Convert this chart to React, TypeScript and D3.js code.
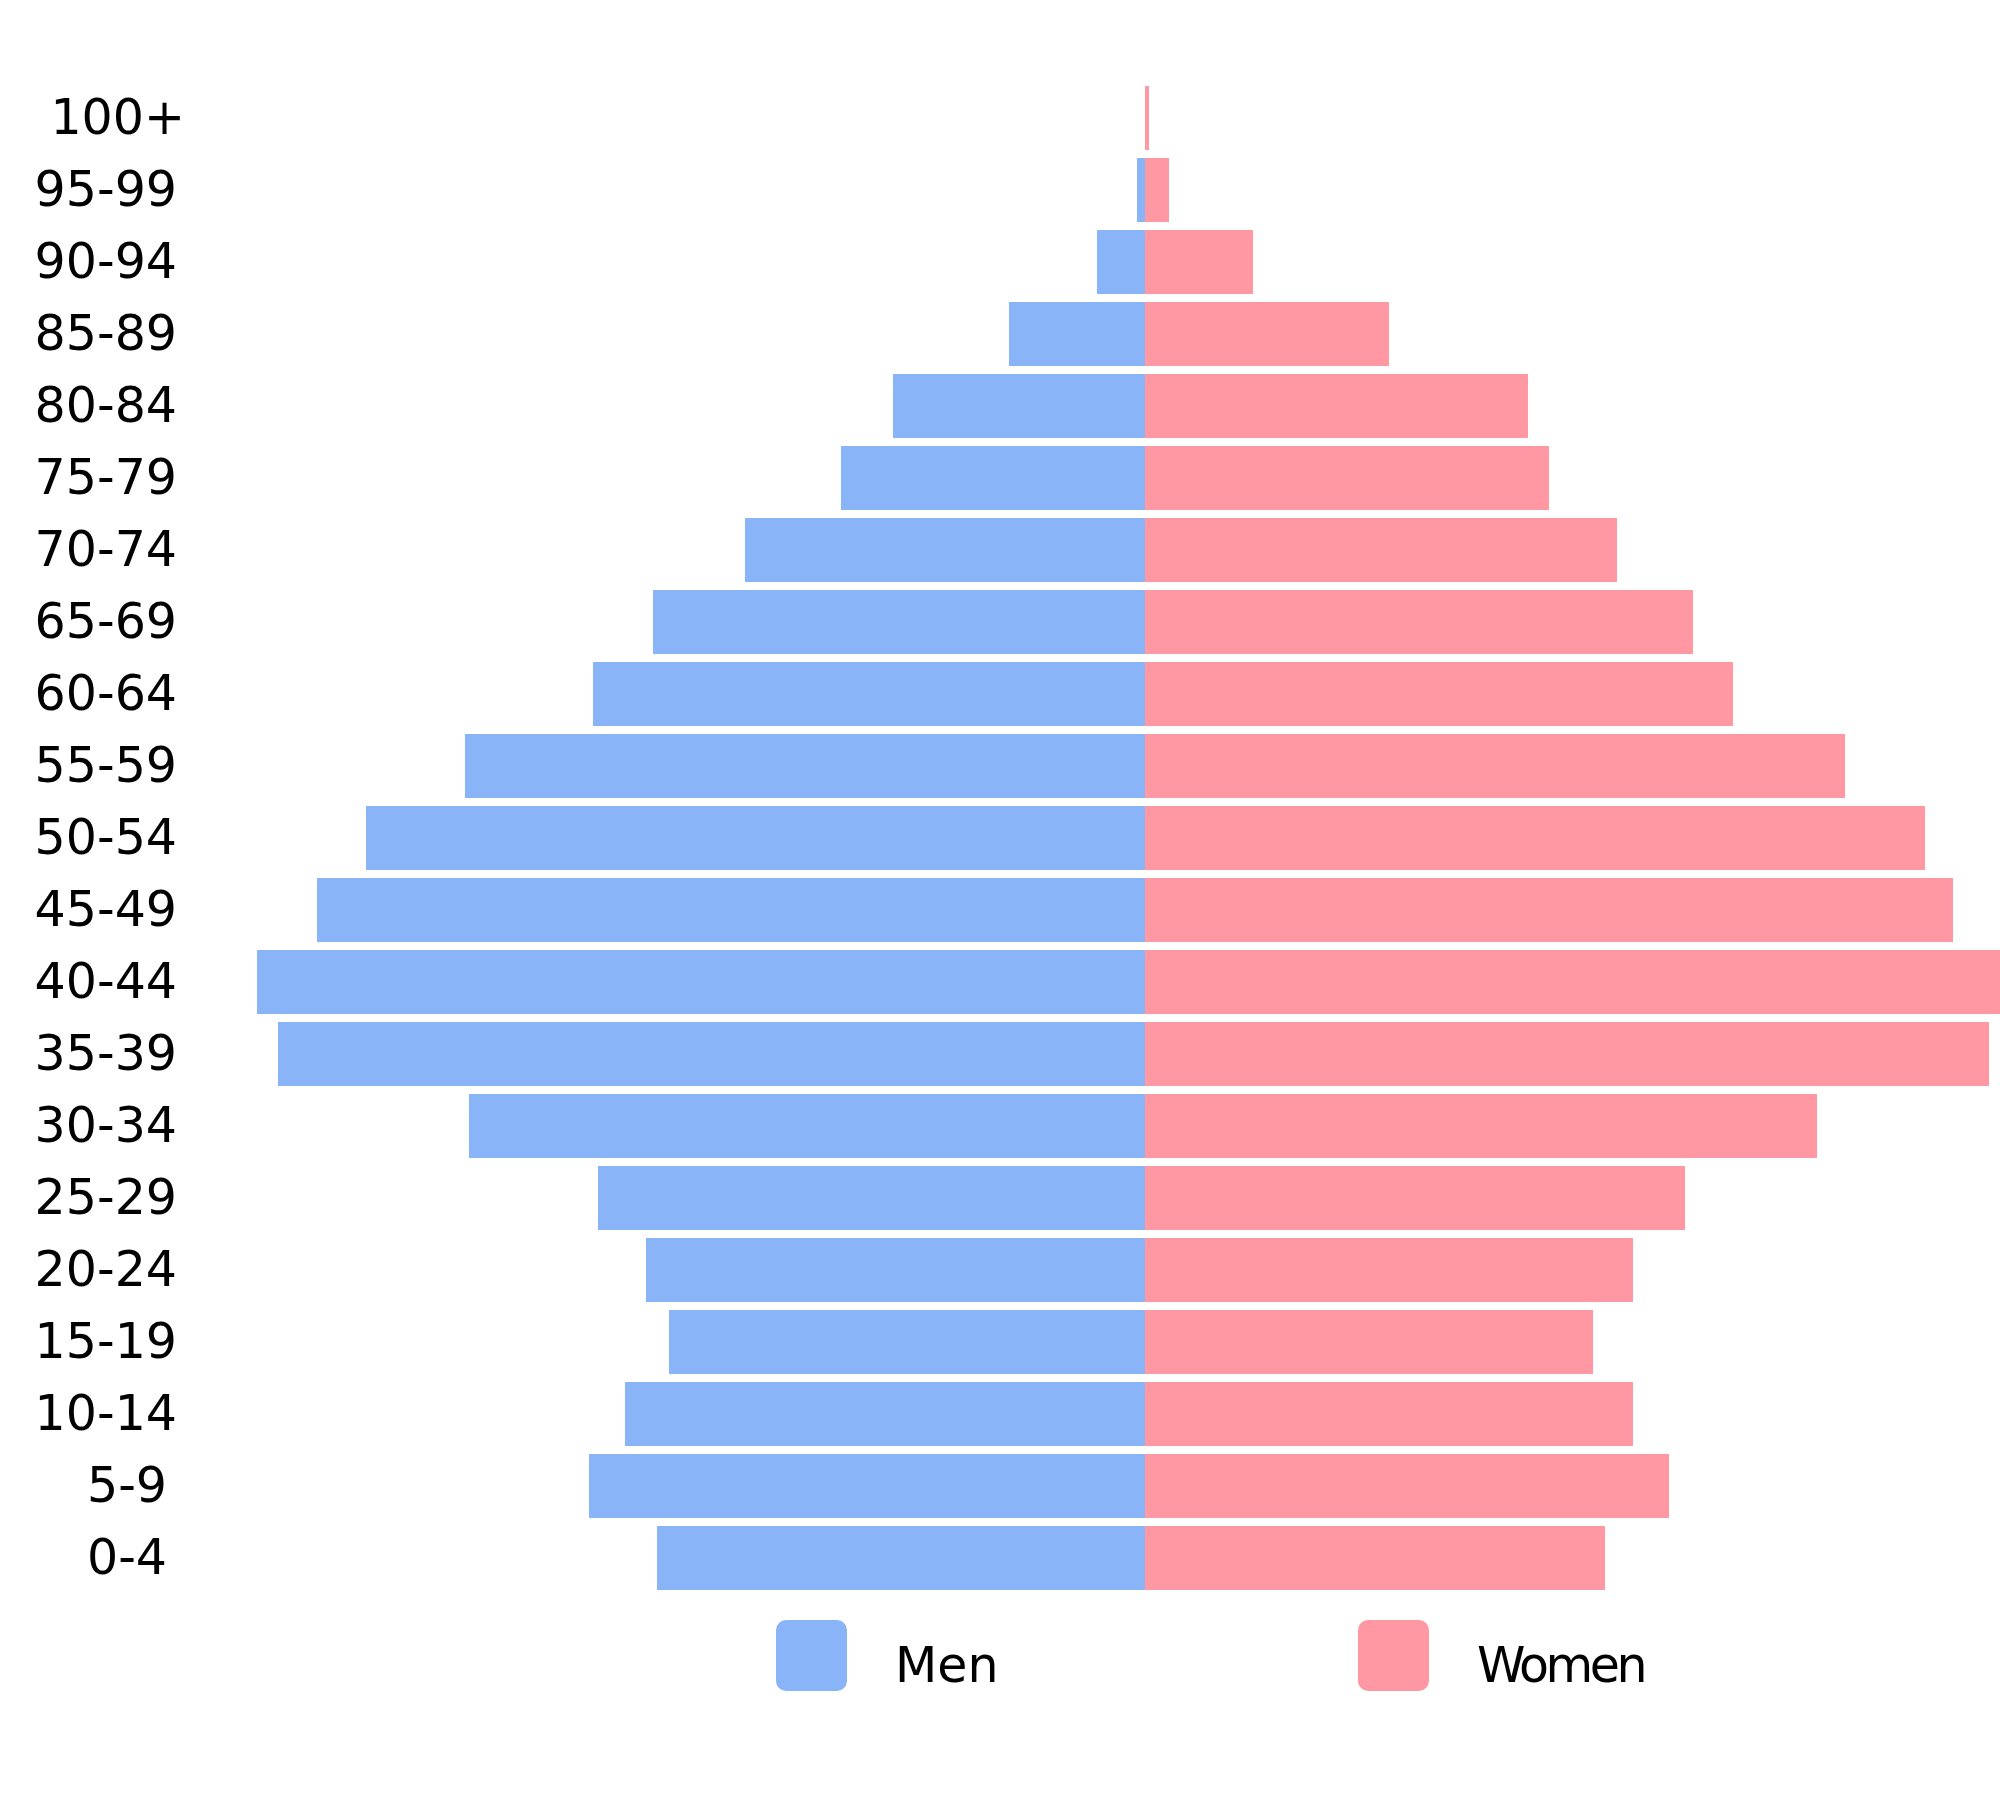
import React from "react";
import * as d3 from "d3";

// age groups, top to bottom
const ageGroups = [
  "100+", "95-99", "90-94", "85-89", "80-84", "75-79", "70-74", "65-69",
  "60-64", "55-59", "50-54", "45-49", "40-44", "35-39", "30-34", "25-29",
  "20-24", "15-19", "10-14", "5-9", "0-4",
];

const men = [
  0, 0.8, 4.8, 13.6, 25.2, 30.4, 40.0, 49.2,
  55.2, 68.0, 77.9, 82.8, 88.8, 86.7, 67.6, 54.7,
  49.9, 47.6, 52.0, 55.6, 48.8,
];

const women = [
  0.4, 2.4, 10.8, 24.4, 38.3, 40.4, 47.2, 54.8,
  58.8, 70.0, 78.0, 80.8, 87.0, 84.4, 67.2, 54.0,
  48.8, 44.8, 48.8, 52.4, 46.0,
];

const seriesNames = ["Men", "Women"];
const colors = ["#8AB4F8", "#FF98A2"];

// small label shifts so the age labels sit like in the source
const labelNudge: Record<string, number> = { "100+": 8, "5-9": -10, "0-4": -10 };

const W = 2000;
const H = 1800;
const centerX = 1145;
const font = "'DejaVu Sans', sans-serif";

export default function App() {
  const y = d3
    .scaleBand<string>()
    .domain(ageGroups)
    .range([82, 82 + ageGroups.length * 72])
    .paddingInner(8 / 72)
    .paddingOuter(4 / 72);

  const x = d3.scaleLinear().domain([0, 100]).range([0, 1000]);

  return (
    <svg
      width={W}
      height={H}
      style={{ position: "absolute", left: 0, top: 0, background: "#fff" }}
      fontFamily={font}
    >
      <rect width={W} height={H} fill="#fff" />
      <g>
        {ageGroups.map((g, i) => (
          <g key={g}>
            <rect
              x={centerX - x(men[i])}
              y={y(g)}
              width={x(men[i])}
              height={y.bandwidth()}
              fill={colors[0]}
            />
            <rect
              x={centerX}
              y={y(g)}
              width={x(women[i])}
              height={y.bandwidth()}
              fill={colors[1]}
            />
            <text
              x={177 + (labelNudge[g] || 0)}
              y={(y(g) as number) + y.bandwidth() / 2}
              dy="0.32em"
              textAnchor="end"
              fontSize={49}
              fill="#000"
            >
              {g}
            </text>
          </g>
        ))}
      </g>
      <g>
        {seriesNames.map((name, i) => {
          const sx = i === 0 ? 776 : 1358;
          return (
            <g key={name}>
              <rect x={sx} y={1620} width={71} height={71} rx={10} fill={colors[i]} />
              <text
                x={sx + 119}
                y={1682}
                fontSize={49}
                letterSpacing={i === 0 ? 0 : -3.5}
                fill="#000"
              >
                {name}
              </text>
            </g>
          );
        })}
      </g>
    </svg>
  );
}
